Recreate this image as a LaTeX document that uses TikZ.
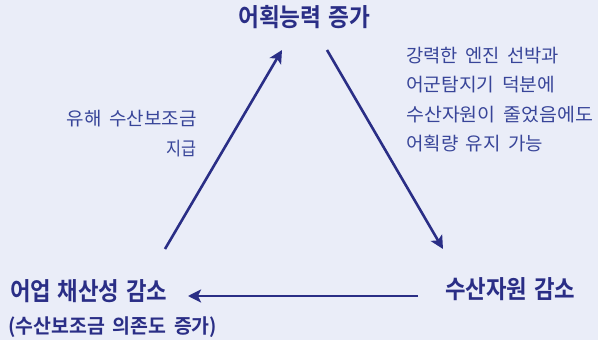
\documentclass[tikz,border=0pt]{standalone}
\usepackage{fontspec}
\usepackage{graphicx}
\newfontfamily\krbold{Noto Sans CJK KR Bold}
\newfontfamily\kr{Noto Sans CJK KR}
\usetikzlibrary{arrows.meta}
\definecolor{bgc}{HTML}{EAEDF8}
\definecolor{navy}{HTML}{2A2E86}
\definecolor{anno}{HTML}{384599}
\newcommand\ttlfont{\krbold\fontsize{25}{30}\selectfont\spaceskip 0.3em\relax}
\newcommand\subfont{\krbold\fontsize{20}{24}\selectfont\spaceskip 0.4em\relax}
\newcommand\annfont{\kr\fontsize{18.5}{22}\selectfont\spaceskip 0.4em\relax}
\newcommand\fitto[2]{\resizebox{#1}{\height}{#2}}
\tikzset{
  title/.style={inner sep=0pt, anchor=base west, text=navy, font=\ttlfont},
  subtitle/.style={inner sep=0pt, anchor=base west, text=navy, font=\subfont},
  annot/.style={inner sep=0pt, text=anno, font=\annfont},
  flow/.style={draw=navy, line width=2.6pt, -{Stealth[length=13pt,width=13pt,inset=3pt]}}
}
\begin{document}
\begin{tikzpicture}[x=1pt,y=-1pt]
\fill[bgc] (0,0) rectangle (598,340);
\useasboundingbox (0,0) rectangle (598,340);
% titles
\node[title] (top) at (238,27) {\fitto{132pt}{어획능력 증가}};
\node[title] (right) at (445,298) {\fitto{130pt}{수산자원 감소}};
\node[title] (left) at (10,300) {\fitto{157pt}{어업 채산성 감소}};
\node[subtitle] (sub) at (8,333) {\fitto{209pt}{(수산보조금 의존도 증가)}};
% annotations
\node[annot, anchor=base west] (r1) at (406,63) {\fitto{153pt}{강력한 엔진 선박과}};
\node[annot, anchor=base west] (r2) at (406,92) {\fitto{149pt}{어군탐지기 덕분에}};
\node[annot, anchor=base west] (r3) at (406,121) {\fitto{187pt}{수산자원이 줄었음에도}};
\node[annot, anchor=base west] (r4) at (406,150.5) {\fitto{137pt}{어획량 유지 가능}};
\node[annot, anchor=base east] (l1) at (197,125) {\fitto{130pt}{유해 수산보조금}};
\node[annot, anchor=base east] (l2) at (197,155) {\fitto{30pt}{지급}};
% connector ends
\coordinate (a1s) at (165,249);
\coordinate (a1e) at (282,50);
\coordinate (a2s) at (327,50);
\coordinate (a2e) at (443,249);
\coordinate (a3s) at (418,296);
\coordinate (a3e) at (188,296);
\draw[flow] (a1s) -- (a1e);
\draw[flow] (a2s) -- (a2e);
\draw[flow] (a3s) -- (a3e);
\end{tikzpicture}
\end{document}
